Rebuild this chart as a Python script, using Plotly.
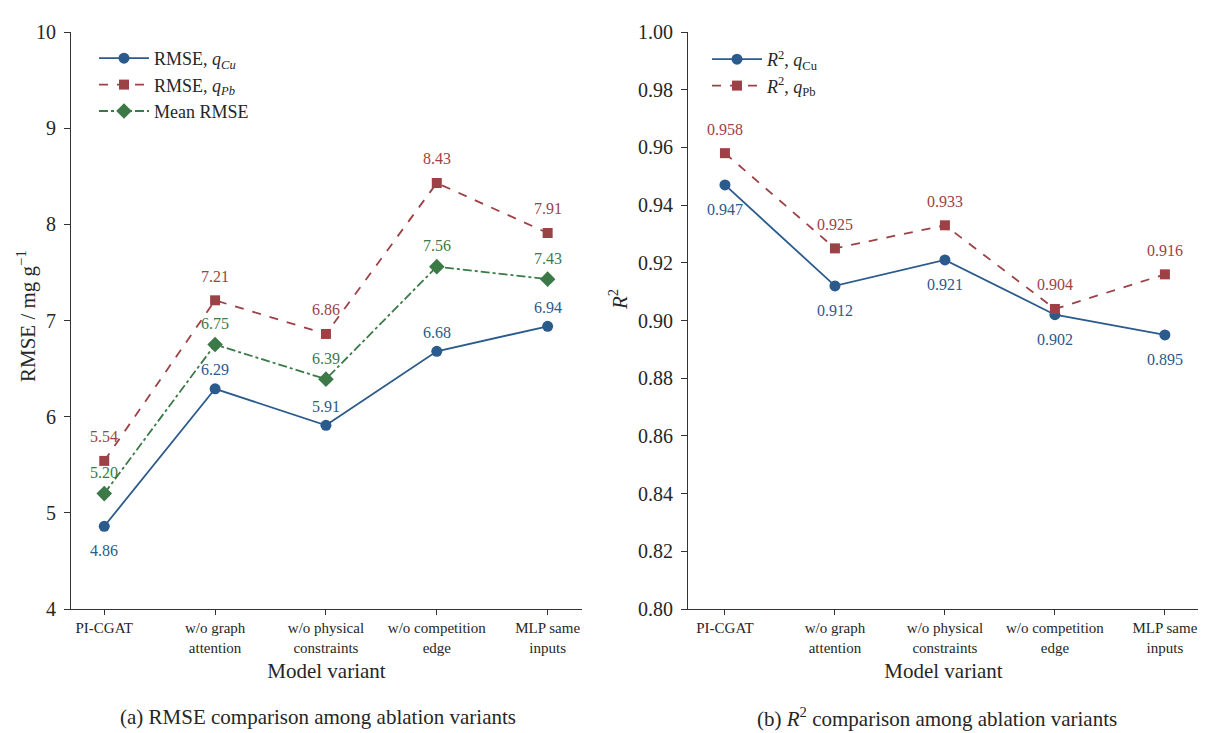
import plotly.graph_objects as go

# ---------------- data ----------------
variants = ["PI-CGAT", "w/o graph<br>attention", "w/o physical<br>constraints",
            "w/o competition<br>edge", "MLP same<br>inputs"]
rmse_cu = [4.86, 6.29, 5.91, 6.68, 6.94]
rmse_pb = [5.54, 7.21, 6.86, 8.43, 7.91]
rmse_mean = [5.20, 6.75, 6.39, 7.56, 7.43]
r2_cu = [0.947, 0.912, 0.921, 0.902, 0.895]
r2_pb = [0.958, 0.925, 0.933, 0.904, 0.916]
rmse_ticks = [4, 5, 6, 7, 8, 9, 10]
r2_ticks = [0.80, 0.82, 0.84, 0.86, 0.88, 0.90, 0.92, 0.94, 0.96, 0.98, 1.00]

# ---------------- style ----------------
BLUE = "#2b5a8c"
RED = "#9c4247"
GREEN = "#3b7a47"
FONT = "Liberation Serif"
TXT = "#262626"
OFF = 8                      # page body margin of the html
W, H = 1206 - OFF, 733 - OFF


def fx(px):
    return (px - OFF) / W


def fy(px):
    return 1 - (px - OFF) / H


xs = list(range(len(variants)))

fig = go.Figure()


def add_series(x, y, name, color, dash, symbol, size, xa, ya, legend):
    fig.add_trace(go.Scatter(
        x=x, y=y, name=name, mode="lines+markers",
        line=dict(color=color, width=1.8, dash=dash),
        marker=dict(color=color, symbol=symbol, size=size),
        xaxis=xa, yaxis=ya, legend=legend,
    ))


add_series(xs, rmse_cu, "RMSE, <i>q</i><sub><i>Cu</i></sub>", BLUE, "solid", "circle", 11, "x", "y", "legend")
add_series(xs, rmse_pb, "RMSE, <i>q</i><sub><i>Pb</i></sub>", RED, "dash", "square", 10, "x", "y", "legend")
add_series(xs, rmse_mean, "Mean RMSE", GREEN, "dashdot", "diamond", 12, "x", "y", "legend")
add_series(xs, r2_cu, "<i>R</i><sup>2</sup>, <i>q</i><sub>Cu</sub>", BLUE, "solid", "circle", 11, "x2", "y2", "legend2")
add_series(xs, r2_pb, "<i>R</i><sup>2</sup>, <i>q</i><sub>Pb</sub>", RED, "dash", "square", 10, "x2", "y2", "legend2")

annotations = []


def label(x, y, color, shift, xref, yref, fmt):
    annotations.append(dict(
        x=x, y=y, xref=xref, yref=yref, text=fmt.format(y), showarrow=False,
        yshift=shift, font=dict(family=FONT, size=16, color=color),
    ))


for i in xs:
    label(i, rmse_pb[i], RED, 24, "x", "y", "{:.2f}")
    label(i, rmse_mean[i], GREEN, 21, "x", "y", "{:.2f}")
    label(i, rmse_cu[i], BLUE, -24 if i == 0 else 19, "x", "y", "{:.2f}")
    label(i, r2_pb[i], RED, 24, "x2", "y2", "{:.3f}")
    label(i, r2_cu[i], BLUE, -25, "x2", "y2", "{:.3f}")


def paper_text(x, y, text, size, angle=0):
    annotations.append(dict(x=fx(x), y=fy(y), xref="paper", yref="paper",
                            xanchor="center", yanchor="middle", textangle=angle,
                            text=text, showarrow=False,
                            font=dict(family=FONT, size=size, color=TXT)))


# axis titles (y) and captions
paper_text(26, 316, "RMSE / mg g<sup>−1</sup>", 21, -90)
paper_text(618, 300, "<i>R</i><sup>2</sup>", 21, -90)
paper_text(318, 717, "(a) RMSE comparison among ablation variants", 21)
paper_text(937, 717, "(b) <i>R</i><sup>2</sup> comparison among ablation variants", 21)

ybottom, ytop = fy(609), fy(32)

common_x = dict(
    tickmode="array", tickvals=xs, ticktext=variants, automargin=False,
    showline=True, linecolor="#333", linewidth=1.2, ticks="outside", ticklen=5,
    tickcolor="#333", showgrid=False, zeroline=False,
    tickfont=dict(family=FONT, size=15, color=TXT),
    title=dict(text="Model variant", font=dict(family=FONT, size=21, color=TXT), standoff=8),
)
common_y = dict(
    showline=True, linecolor="#333", linewidth=1.2, ticks="outside", ticklen=6, automargin=False,
    tickcolor="#333", showgrid=False, zeroline=False, ticklabelstandoff=4,
    tickfont=dict(family=FONT, size=20, color=TXT),
)

fig.update_layout(
    template="none",
    width=W, height=H,
    margin=dict(l=0, r=0, t=0, b=0, pad=0, autoexpand=False),
    paper_bgcolor="white", plot_bgcolor="white",
    xaxis=dict(domain=[fx(71), fx(582)], range=[-0.30, 4.31], anchor="y", **common_x),
    yaxis=dict(domain=[ybottom, ytop], range=[4, 10], tickvals=rmse_ticks, anchor="x", **common_y),
    xaxis2=dict(domain=[fx(688), fx(1199)], range=[-0.336, 4.31], anchor="y2", **common_x),
    yaxis2=dict(domain=[ybottom, ytop], range=[0.80, 1.00], tickvals=r2_ticks, tickformat=".2f",
                anchor="x2", **common_y),
    legend=dict(x=fx(94), y=fy(40), xanchor="left", yanchor="top",
                font=dict(family=FONT, size=18, color=TXT), bgcolor="rgba(0,0,0,0)",
                itemwidth=50),
    legend2=dict(x=fx(707), y=fy(41), xanchor="left", yanchor="top",
                 font=dict(family=FONT, size=18, color=TXT), bgcolor="rgba(0,0,0,0)",
                 itemwidth=50),
    annotations=annotations,
    showlegend=True,
)

fig.write_html("out.html")
